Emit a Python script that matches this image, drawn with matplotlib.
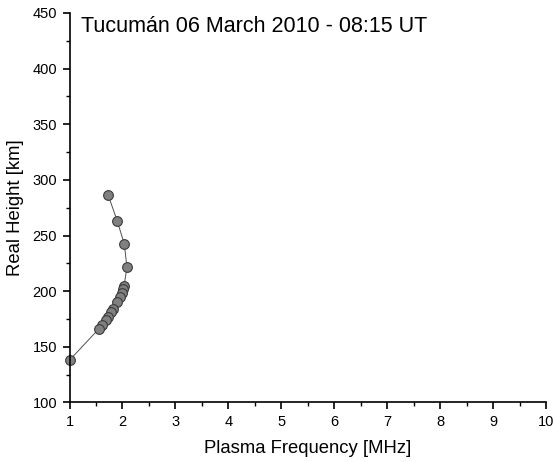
import matplotlib
matplotlib.use('Agg')
from matplotlib import pyplot as plt
from matplotlib.ticker import MultipleLocator

plt.rcParams['font.family'] = ['Liberation Sans', 'DejaVu Sans']

# plasma frequency profile
freq = [1.73, 1.90, 2.035, 2.085, 2.03, 2.015, 1.997, 1.953, 1.90,
        1.815, 1.78, 1.72, 1.68, 1.62, 1.557, 1.0]
height = [286.4, 263.3, 242.4, 221.5, 204.7, 201.7, 198.6, 195.0, 190.6,
          183.7, 181.3, 176.5, 173.9, 169.6, 166.3, 138.0]

fig = plt.figure(figsize=(5.53, 4.62), dpi=100)
ax = fig.add_axes([0.1257, 0.1288, 0.8616, 0.8431])

ax.plot(freq, height, color='#505050', lw=0.7, marker='o', ms=7,
        mfc='#808080', mec='#3a3a3a', mew=0.8, clip_on=False)

ax.set_xlim(1, 10)
ax.set_ylim(100, 450)
ax.xaxis.set_major_locator(MultipleLocator(1))
ax.xaxis.set_minor_locator(MultipleLocator(0.5))
ax.yaxis.set_major_locator(MultipleLocator(50))
ax.yaxis.set_minor_locator(MultipleLocator(25))

ax.spines['top'].set_visible(False)
ax.spines['right'].set_visible(False)
ax.spines['left'].set_linewidth(1.2)
ax.spines['bottom'].set_linewidth(1.2)
ax.tick_params(which='major', direction='out', length=5, width=1.2, labelsize=10.5, pad=4)
ax.tick_params(which='minor', direction='out', length=3, width=1.0)

ax.set_xlabel('Plasma Frequency [MHz]', fontsize=13.3, labelpad=8)
ax.set_ylabel('Real Height [km]', fontsize=13.3, labelpad=6)

ax.text(0.025, 0.992, 'Tucumán 06 March 2010 - 08:15 UT', transform=ax.transAxes,
        fontsize=15.5, va='top', ha='left')

fig.savefig('out.png', dpi=100)
